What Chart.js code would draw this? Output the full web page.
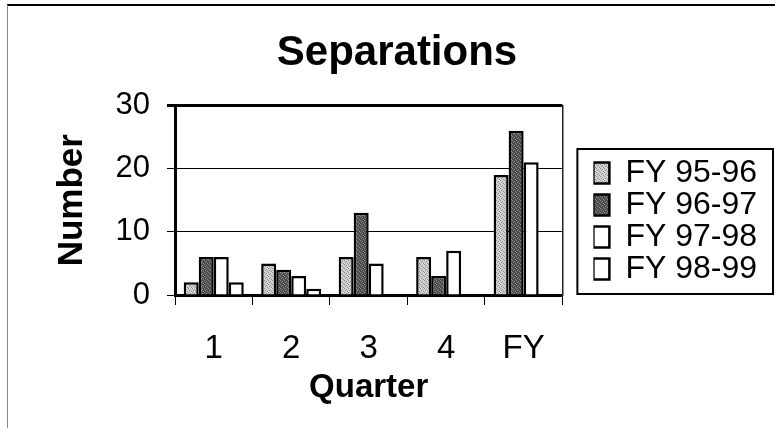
<!DOCTYPE html>
<html><head><meta charset="utf-8">
<script src="https://cdn.jsdelivr.net/npm/chart.js@4/dist/chart.umd.min.js"></script>
<style>html,body{margin:0;padding:0;background:#fff;}</style>
</head><body>
<canvas id="c" width="775" height="428"></canvas>
<script>
const categories = ['1', '2', '3', '4', 'FY'];
const seriesNames = ['FY 95-96', 'FY 96-97', 'FY 97-98', 'FY 98-99'];
const fy9596 = [2, 5, 6, 6, 19];
const fy9697 = [6, 4, 13, 3, 26];
const fy9798 = [6, 3, 5, 7, 21];
const fy9899 = [2, 1, 0, 0, 0];
const yTickValues = [0, 10, 20, 30];

const FONT = "'Liberation Sans', Arial, sans-serif";

const canvas = document.getElementById('c');
const ctx0 = canvas.getContext('2d');
function makePattern(base, dot) {
  const t = document.createElement('canvas');
  t.width = 4; t.height = 4;
  const g = t.getContext('2d');
  g.fillStyle = base; g.fillRect(0, 0, 4, 4);
  g.fillStyle = dot;
  g.fillRect(0, 0, 1, 1); g.fillRect(2, 1, 1, 1); g.fillRect(1, 2, 1, 1); g.fillRect(3, 3, 1, 1);
  return ctx0.createPattern(t, 'repeat');
}
const lightFill = makePattern('#d4d4d4', '#8a8a8a');
const darkFill = makePattern('#4a4a4a', '#8c8c8c');

const frame = {
  id: 'frame',
  beforeDraw(chart) {
    const c = chart.ctx; c.save(); c.fillStyle = '#fff'; c.fillRect(0, 0, chart.width, chart.height); c.restore();
  },
  afterDraw(chart) {
    const c = chart.ctx; c.save();
    c.strokeStyle = '#000'; c.lineWidth = 2;
    c.beginPath(); c.moveTo(7, 5); c.lineTo(chart.width, 5); c.stroke();
    c.strokeStyle = '#888'; c.lineWidth = 1;
    c.beginPath(); c.moveTo(7.5, 5); c.lineTo(7.5, chart.height); c.stroke();
    const hb = chart.legend && chart.legend.legendHitBoxes;
    if (hb && hb.length) {
      const last = hb[hb.length - 1];
      const x0 = hb[0].left - 16, y0 = hb[0].top - 8;
      const y1 = last.top + last.height + 9, x1 = chart.width - 2;
      c.strokeStyle = '#000'; c.lineWidth = 2;
      c.strokeRect(x0, y0, x1 - x0, y1 - y0);
    }
    c.restore();
  }
};

const fills = [lightFill, darkFill, '#ffffff', '#ffffff'];
const values = [fy9596, fy9697, fy9798, fy9899];

new Chart(canvas, {
  type: 'bar',
  data: {
    labels: categories,
    datasets: seriesNames.map((n, i) => ({
      label: n,
      data: values[i],
      backgroundColor: fills[i],
      borderColor: '#000',
      borderWidth: 2.5,
      categoryPercentage: 0.775,
      barPercentage: 1.0
    }))
  },
  options: {
    responsive: false,
    animation: false,
    layout: { padding: { left: 27, right: 8, top: 0, bottom: 0 } },
    plugins: {
      title: {
        display: true, text: 'Separations', color: '#000',
        font: { family: FONT, size: 42, weight: 'bold' },
        padding: { top: 28, bottom: 27 }
      },
      legend: {
        position: 'right', align: 'center', maxWidth: 400,
        title: { display: true, text: '', padding: { top: 4, bottom: 0 }, font: { size: 10, lineHeight: 1 } },
        labels: { boxWidth: 16, boxHeight: 21, padding: 0, color: '#000', font: { family: FONT, size: 32 } }
      },
      tooltip: { enabled: false }
    },
    scales: {
      x: {
        grid: { display: true, drawOnChartArea: false, drawTicks: true, tickLength: 10, color: '#000', lineWidth: 1, offset: true },
        border: { display: true, color: '#000', width: 3 },
        ticks: { color: '#000', padding: 24, font: { family: FONT, size: 33 } },
        title: { display: true, text: 'Quarter', color: '#000', font: { family: FONT, size: 33, weight: 'bold' }, padding: { top: 0, bottom: 20 } },
        afterFit: s => { s.height = 133; }
      },
      y: {
        min: 0, max: 30,
        afterBuildTicks: s => { s.ticks = yTickValues.map(v => ({ value: v })); },
        ticks: { color: '#000', padding: 17, font: { family: FONT, size: 31 } },
        grid: { color: '#000', tickLength: 8, lineWidth: c => (c.tick && c.tick.value === 30) ? 3 : 1 },
        border: { display: true, color: '#000', width: 3 },
        title: { display: true, text: 'Number', color: '#000', font: { family: FONT, size: 35, weight: 'bold' }, padding: { top: 24, bottom: 0 } },
        afterFit: s => { s.width = 148; }
      },
      y2: {
        position: 'right', display: true,
        ticks: { display: false },
        grid: { display: false },
        border: { display: true, color: '#222', width: 1.5 },
        afterFit: s => { s.width = 31; }
      }
    }
  },
  plugins: [frame]
});
</script>
</body></html>
